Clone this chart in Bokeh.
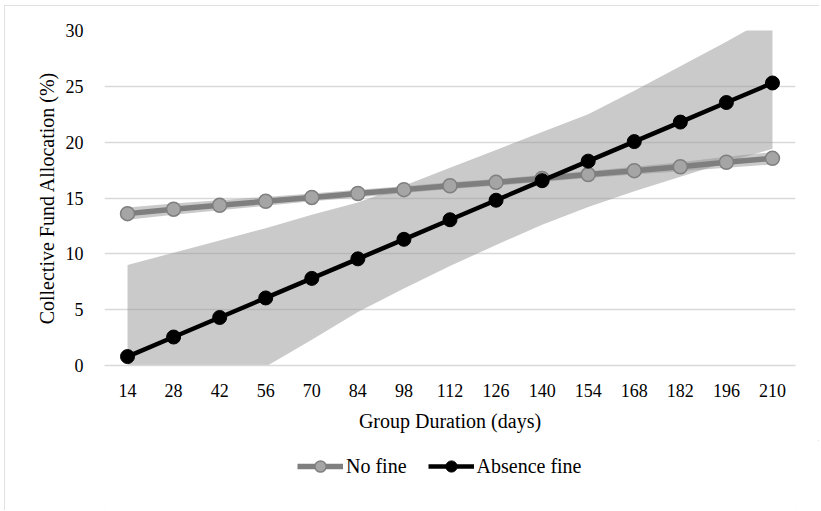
from bokeh.plotting import figure
from bokeh.layouts import column
from bokeh.models import Range1d, FactorRange, Legend, LegendItem, FixedTicker
from bokeh.embed import file_html
from bokeh.resources import INLINE

days = ["14", "28", "42", "56", "70", "84", "98", "112", "126", "140",
        "154", "168", "182", "196", "210"]

no_fine = [13.6, 14.0, 14.35, 14.7, 15.05, 15.4, 15.75, 16.1, 16.4, 16.75,
           17.1, 17.45, 17.8, 18.2, 18.55]
no_fine_lo = [13.05, 13.5, 13.9, 14.3, 14.7, 15.05, 15.45, 15.8, 16.1, 16.45,
              16.8, 17.1, 17.4, 17.7, 18.0]
no_fine_hi = [14.15, 14.5, 14.8, 15.1, 15.4, 15.75, 16.05, 16.4, 16.7, 17.05,
              17.4, 17.8, 18.2, 18.7, 19.1]

absence = [0.8, 2.55, 4.3, 6.05, 7.8, 9.55, 11.3, 13.05, 14.8, 16.55,
           18.3, 20.05, 21.8, 23.55, 25.3]
absence_lo = [-7.5, -5.0, -2.5, -0.1, 2.3, 4.8, 6.9, 8.9, 10.8, 12.6,
              14.2, 15.6, 16.9, 18.2, 19.4]
absence_hi = [9.0, 10.1, 11.2, 12.3, 13.5, 14.6, 16.1, 17.7, 19.3, 20.9,
              22.5, 24.6, 26.8, 29.0, 31.3]

y_ticks = [0, 5, 10, 15, 20, 25, 30]
series_labels = ["No fine", "Absence fine"]

FONT = "Liberation Serif"
GRID = "#d9d9d9"
NF_LINE = dict(line_color="#7f7f7f", line_width=5.5)
NF_PTS = dict(size=14, fill_color="#a5a5a5", line_color="#7f7f7f", line_width=1.5)
AB_LINE = dict(line_color="#000000", line_width=4.5)
AB_PTS = dict(size=14, fill_color="#000000", line_color="#000000")

p = figure(x_range=FactorRange(factors=days), y_range=Range1d(0, 30),
           frame_width=691, frame_height=335,
           output_backend="svg", toolbar_location=None,
           min_border_left=100, min_border_right=24, min_border_top=25,
           min_border_bottom=75)
p.outline_line_color = None

# bands
p.varea(x=days, y1=absence_lo, y2=absence_hi, fill_color="#959595", fill_alpha=0.5)
p.varea(x=days, y1=no_fine_lo, y2=no_fine_hi, fill_color="#959595", fill_alpha=0.5)

p.line(x=days, y=no_fine, **NF_LINE)
p.scatter(x=days, y=no_fine, **NF_PTS)
p.line(x=days, y=absence, **AB_LINE)
p.scatter(x=days, y=absence, **AB_PTS)

# axes
p.yaxis.ticker = FixedTicker(ticks=y_ticks)
p.yaxis.axis_line_color = None
p.yaxis.major_tick_line_color = None
p.yaxis.minor_tick_line_color = None
p.yaxis.major_label_standoff = 15
p.yaxis.axis_label = "Collective Fund Allocation (%)"
p.yaxis.axis_label_standoff = 5

p.xaxis.axis_line_color = GRID
p.xaxis.axis_line_width = 1.5
p.xaxis.major_tick_line_color = None
p.xaxis.minor_tick_line_color = None
p.xaxis.major_label_standoff = 12
p.xaxis.axis_label = "Group Duration (days)"
p.xaxis.axis_label_standoff = 10

for ax in (p.xaxis, p.yaxis):
    ax.major_label_text_font = FONT
    ax.major_label_text_font_size = "18px"
    ax.major_label_text_color = "#000000"
    ax.axis_label_text_font = FONT
    ax.axis_label_text_font_size = "20px"
    ax.axis_label_text_font_style = "normal"
    ax.axis_label_text_color = "#000000"

p.xgrid.visible = False
p.ygrid.ticker = FixedTicker(ticks=y_ticks)
p.ygrid.grid_line_color = GRID
p.ygrid.grid_line_width = 1.3

# legend strip: a separate figure under the chart, same frame width.
# It re-plots the series with a y range that keeps them out of view,
# so only the legend shows.
lg = figure(x_range=FactorRange(factors=days), y_range=Range1d(100, 101),
            width=815, height=70, output_backend="svg", toolbar_location=None,
            x_axis_location=None, y_axis_location=None,
            min_border_left=100, min_border_right=24, min_border_top=0,
            min_border_bottom=0)
lg.outline_line_color = None
lg.xgrid.visible = False
lg.ygrid.visible = False
r1 = lg.line(x=days, y=no_fine, **NF_LINE)
r2 = lg.scatter(x=days, y=no_fine, **NF_PTS)
r3 = lg.line(x=days, y=absence, **AB_LINE)
r4 = lg.scatter(x=days, y=absence, **AB_PTS)

legend = Legend(items=[LegendItem(label=series_labels[0], renderers=[r1, r2]),
                       LegendItem(label=series_labels[1], renderers=[r3, r4])],
                orientation="horizontal", location=(193, 30),
                glyph_width=46, glyph_height=28, label_standoff=3, spacing=21,
                padding=0, margin=0, background_fill_alpha=0, border_line_alpha=0,
                label_text_font=FONT, label_text_font_size="20px",
                label_text_color="#000000")
lg.add_layout(legend)

layout = column(p, lg, spacing=0)
layout.styles = {"outline": "1px solid #d9d9d9", "outline-offset": "-1px",
                 "margin-left": "4px", "margin-top": "5px"}

open("out.html", "w").write(file_html(layout, INLINE))
